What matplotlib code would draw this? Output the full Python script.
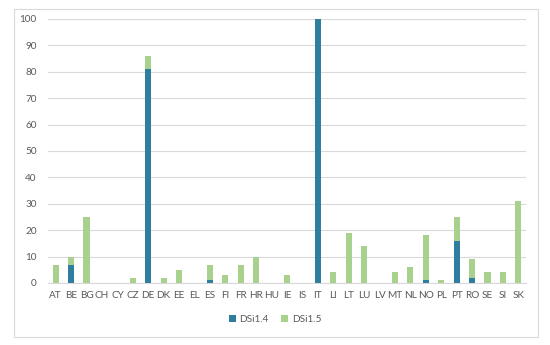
import matplotlib.pyplot as plt
from matplotlib.patches import Rectangle

# countries on the x axis
countries = ['AT', 'BE', 'BG', 'CH', 'CY', 'CZ', 'DE', 'DK', 'EE', 'EL', 'ES', 'FI',
             'FR', 'HR', 'HU', 'IE', 'IS', 'IT', 'LI', 'LT', 'LU', 'LV', 'MT', 'NL',
             'NO', 'PL', 'PT', 'RO', 'SE', 'SI', 'SK']

# stacked values
dsi14 = [0, 7, 0, 0, 0, 0, 81, 0, 0, 0, 1, 0, 0, 0, 0, 0, 0, 100, 0, 0, 0, 0, 0, 0,
         1, 0, 16, 2, 0, 0, 0]
dsi15 = [7, 3, 25, 0, 0, 2, 5, 2, 5, 0, 6, 3, 7, 10, 0, 3, 0, 0, 4, 19, 14, 0, 4, 6,
         17, 1, 9, 7, 4, 4, 31]

yticks = [0, 10, 20, 30, 40, 50, 60, 70, 80, 90, 100]

plt.rcParams['font.family'] = ['Lato', 'DejaVu Sans']

fig = plt.figure(figsize=(5.5, 3.45), dpi=100)
ax = fig.add_axes([48 / 550, 1 - 283 / 345, (526 - 48) / 550, (283 - 19) / 345])

x = range(len(countries))
ax.bar(x, dsi14, width=0.4, color='#2E7EA0', label='DSi1.4', zorder=3)
ax.bar(x, dsi15, width=0.4, bottom=dsi14, color='#A9D18E', label='DSi1.5', zorder=3)

ax.set_xlim(-0.5, len(countries) - 0.5)
ax.set_ylim(0, 100)
ax.set_yticks(yticks)
ax.set_xticks(list(x))
ax.set_xticklabels(countries)
ax.tick_params(axis='both', length=0, labelsize=7.2, colors='#595959')
ax.tick_params(axis='y', pad=8)
ax.tick_params(axis='x', pad=6)
ax.grid(axis='y', color='#D9D9D9', linewidth=0.8, zorder=0)
for s in ['top', 'right', 'left']:
    ax.spines[s].set_visible(False)
ax.spines['bottom'].set_color('#D9D9D9')

leg = fig.legend(loc='center', bbox_to_anchor=(0.5, 1 - 319 / 345), ncol=2, frameon=False,
                 fontsize=7.2, handlelength=0.7, handleheight=0.7, columnspacing=1.2,
                 handletextpad=0.4)
for t in leg.get_texts():
    t.set_color('#595959')

# outer chart border
fig.patches.append(Rectangle((14 / 550, 1 - 337 / 345), (538 - 14) / 550, (337 - 9) / 345,
                             transform=fig.transFigure, fill=False,
                             edgecolor='#D9D9D9', linewidth=0.8))

plt.savefig('out.png', dpi=100)
